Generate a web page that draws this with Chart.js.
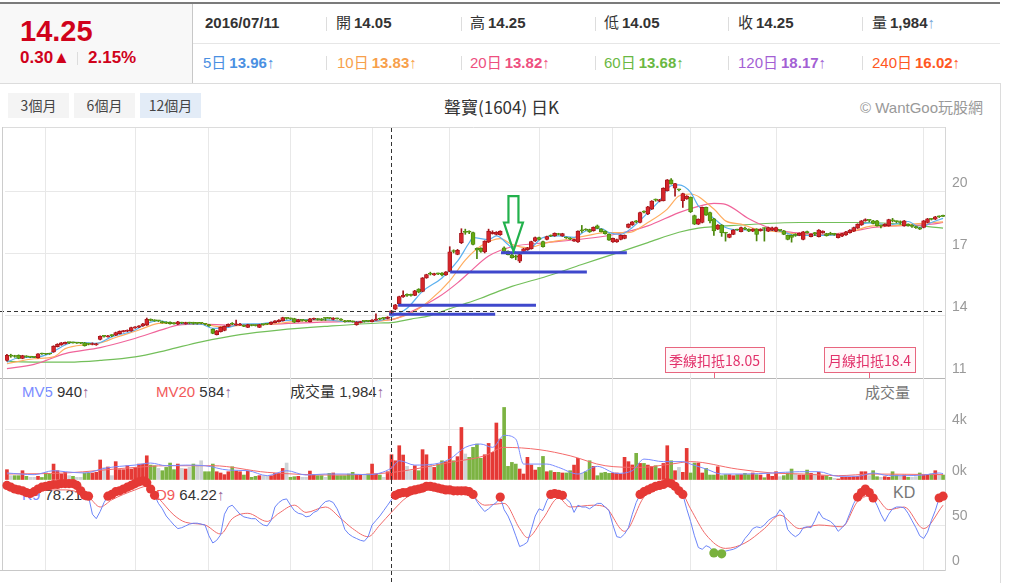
<!DOCTYPE html>
<html lang="zh-Hant">
<head>
<meta charset="utf-8">
<title>聲寶(1604) 日K</title>
<script src="https://cdn.jsdelivr.net/npm/chart.js@4.4.1/dist/chart.umd.min.js"></script>
<style>
  body { margin: 0; width: 1010px; height: 583px; overflow: hidden; background: #fff;
    font-family: "Liberation Sans", Arial, "Noto Sans CJK TC", sans-serif; color: #333; position: relative; }
  .abs { position: absolute; white-space: nowrap; }
  #topline { left: 0; top: 2px; width: 1000px; height: 2px; background: #7b7b7b; }
  #quote { left: 0; top: 4px; width: 192px; height: 79px; background: #f8f8f8; border-right: 1px solid #c8c8c8; }
  #bigPrice { left: 20px; top: 15px; font-size: 29px; font-weight: bold; color: #d0021b; }
  #chg { left: 20px; top: 48px; font-size: 17px; font-weight: bold; color: #d0021b; }
  #chgPct { left: 88px; top: 48px; font-size: 17px; font-weight: bold; color: #d0021b; }
  #chgSep { left: 77px; top: 52px; width: 1px; height: 13px; background: #ddd; }
  #rowSep { left: 193px; top: 43px; width: 807px; height: 1px; background: #e6e6e6; }
  #headBottom { left: 0; top: 83px; width: 1000px; height: 1px; background: #dcdcdc; }
  #rightBorder { left: 1000px; top: 83px; width: 1px; height: 500px; background: #dcdcdc; }
  .r1 { top: 14px; height: 18px; line-height: 18px; font-size: 15px; color: #333; }
  .r2 { top: 54px; height: 18px; line-height: 18px; font-size: 15px; }
  .r1 b, .r2 b { margin-left: 3px; }
  .vdiv { width: 1px; height: 14px; background: #dddddd; }
  .btn { top: 93px; width: 61px; height: 25px; line-height: 25px; text-align: center; font-size: 14px;
    color: #444; background: #f4f4f4; font-family: "Noto Sans CJK TC", sans-serif; }
  #title { left: 0; width: 1003px; top: 94px; text-align: center; font-size: 17px; color: #333;
    font-family: "Noto Sans CJK TC", sans-serif; }
  #brand { left: 860px; top: 96px; font-size: 15px; color: #999; }
  .leg { font-size: 15px; z-index: 1; line-height: 18px; }
  canvas { position: absolute; left: 0; z-index: 2; }
</style>
</head>
<body>
<div id="topline" class="abs"></div>
<div id="quote" class="abs"></div>
<div id="bigPrice" class="abs">14.25</div>
<div id="chg" class="abs">0.30▲</div>
<div id="chgSep" class="abs"></div>
<div id="chgPct" class="abs">2.15%</div>

<div class="abs r1" style="left:205px"><b style="margin-left:0">2016/07/11</b></div>
<div class="abs r1" style="left:336px">開<b>14.05</b></div>
<div class="abs r1" style="left:470px">高<b>14.25</b></div>
<div class="abs r1" style="left:604px">低<b>14.05</b></div>
<div class="abs r1" style="left:738px">收<b>14.25</b></div>
<div class="abs r1" style="left:872px">量<b>1,984</b><span style="color:#7aa7d8">↑</span></div>

<div class="abs r2" style="left:203px;color:#4a90e2">5日<b>13.96</b>↑</div>
<div class="abs r2" style="left:337px;color:#f7a04b">10日<b>13.83</b>↑</div>
<div class="abs r2" style="left:470px;color:#ee4f7f">20日<b>13.82</b>↑</div>
<div class="abs r2" style="left:604px;color:#6ab843">60日<b>13.68</b>↑</div>
<div class="abs r2" style="left:738px;color:#a35fd4">120日<b>18.17</b>↑</div>
<div class="abs r2" style="left:872px;color:#ff5722">240日<b>16.02</b>↑</div>

<div class="abs vdiv" style="left:326px;top:17px"></div>
<div class="abs vdiv" style="left:461px;top:17px"></div>
<div class="abs vdiv" style="left:595px;top:17px"></div>
<div class="abs vdiv" style="left:728px;top:17px"></div>
<div class="abs vdiv" style="left:862px;top:17px"></div>
<div class="abs vdiv" style="left:326px;top:56px"></div>
<div class="abs vdiv" style="left:461px;top:56px"></div>
<div class="abs vdiv" style="left:595px;top:56px"></div>
<div class="abs vdiv" style="left:728px;top:56px"></div>
<div class="abs vdiv" style="left:862px;top:56px"></div>
<div id="rowSep" class="abs"></div>
<div id="headBottom" class="abs"></div>
<div id="rightBorder" class="abs"></div>

<div class="abs btn" style="left:8px">3個月</div>
<div class="abs btn" style="left:74px">6個月</div>
<div class="abs btn" style="left:140px;background:#e3ecf7">12個月</div>
<div id="title" class="abs">聲寶(1604) 日K</div>
<div id="brand" class="abs">© WantGoo玩股網</div>

<div class="abs leg" style="left:22px;top:383px"><span style="color:#7b8cff">MV5</span> 940<span style="color:#9a6a9a">↑</span></div>
<div class="abs leg" style="left:156px;top:383px"><span style="color:#f25a5a">MV20</span> 584<span style="color:#9a6a9a">↑</span></div>
<div class="abs leg" style="left:290px;top:383px">成交量 1,984<span style="color:#9a6a9a">↑</span></div>
<div class="abs leg" style="left:865px;top:384px;color:#777">成交量</div>
<div class="abs leg" style="left:22px;top:486px"><span style="color:#7b8cff">K9</span> 78.21<span style="color:#9a6a9a">↑</span></div>
<div class="abs leg" style="left:156px;top:486px"><span style="color:#f25a5a">D9</span> 64.22<span style="color:#9a6a9a">↑</span></div>
<div class="abs leg" style="left:893px;top:484px;color:#777;font-size:16px">KD</div>

<canvas id="priceChart" width="1000" height="260" style="top:122px"></canvas>
<canvas id="volChart" width="1000" height="102" style="top:378px"></canvas>
<canvas id="kdChart" width="1000" height="113" style="top:470px"></canvas>

<script>
// daily candles, one entry per trading day (oldest first)
const opens = [
  11.85,12.06,12.08,12.10,11.95,12.05,12.01,12.00,11.98,12.17,
  12.17,12.17,12.26,12.52,12.60,12.66,12.71,12.72,12.69,12.68,
  12.70,12.66,12.62,12.60,12.86,13.01,12.99,13.05,13.07,13.15,
  13.24,13.26,13.28,13.42,13.46,13.52,13.56,13.82,13.79,13.76,
  13.73,13.70,13.70,13.66,13.60,13.66,13.62,13.66,13.68,13.64,
  13.65,13.62,13.58,13.35,13.10,13.24,13.30,13.50,13.64,13.56,
  13.56,13.55,13.45,13.56,13.55,13.45,13.58,13.60,13.60,13.68,
  13.72,13.77,13.88,13.88,13.87,13.73,13.79,13.77,13.73,13.84,
  13.86,13.86,13.88,13.90,13.83,13.88,13.85,13.77,13.75,13.74,
  13.58,13.68,13.74,13.76,13.73,13.80,13.88,13.88,13.88,14.05,
  14.33,14.59,14.92,15.00,15.00,15.00,15.30,15.19,15.84,16.02,
  15.98,16.05,16.08,15.98,16.16,17.14,16.98,17.55,18.04,18.10,
  18.03,17.27,17.28,17.10,17.58,17.98,17.95,17.93,17.30,17.13,
  16.96,16.90,16.65,17.12,17.20,17.25,17.63,17.79,17.60,17.70,
  17.90,17.87,17.98,17.87,17.80,17.77,17.62,17.58,18.12,18.20,
  18.18,18.13,18.36,18.20,18.10,17.95,17.58,17.58,17.70,17.75,
  18.28,18.40,18.58,18.52,19.05,18.93,19.17,19.62,19.55,19.58,
  20.06,20.58,20.18,20.10,19.58,19.66,19.74,18.85,18.44,18.52,
  19.25,19.00,18.70,18.20,18.40,18.02,17.80,17.95,18.18,18.08,
  18.22,18.20,18.10,18.20,18.12,18.25,18.10,18.15,18.10,18.14,
  18.12,17.90,17.90,17.90,17.90,17.70,18.05,17.84,17.98,17.84,
  18.03,17.98,17.98,17.95,17.79,17.86,17.92,18.03,18.10,18.25,
  18.40,18.60,18.62,18.60,18.60,18.36,18.36,18.36,18.62,18.58,
  18.52,18.36,18.44,18.33,18.27,18.26,18.28,18.52,18.70,18.68,
  18.80,18.84
];
const highs = [
  12.15,12.15,12.10,12.12,12.10,12.08,12.04,12.03,12.18,12.20,
  12.19,12.20,12.56,12.66,12.72,12.74,12.74,12.74,12.73,12.72,
  12.72,12.68,12.70,12.68,13.04,13.06,13.06,13.10,13.22,13.28,
  13.30,13.33,13.46,13.49,13.54,13.64,13.90,13.86,13.82,13.79,
  13.75,13.72,13.72,13.68,13.74,13.70,13.70,13.70,13.70,13.68,
  13.68,13.64,13.60,13.38,13.30,13.47,13.52,13.62,13.68,13.80,
  13.64,13.57,13.60,13.58,13.57,13.60,13.60,13.64,13.72,13.78,
  13.82,13.94,13.92,13.90,13.89,13.84,13.82,13.80,13.88,13.90,
  13.88,13.88,13.92,13.92,13.92,13.90,13.87,13.79,13.77,13.76,
  13.73,13.74,13.76,13.78,13.82,14.10,13.90,13.92,13.97,14.25,
  14.56,14.96,15.22,15.07,15.06,15.24,15.32,15.86,16.02,16.12,
  16.07,16.08,16.10,16.15,17.35,17.20,17.22,18.22,18.20,18.12,
  18.06,17.30,17.30,17.64,18.20,18.12,18.08,18.12,17.35,17.15,
  16.98,16.95,17.00,17.27,17.32,17.62,17.82,17.82,17.62,17.86,
  17.92,18.02,18.00,18.00,17.82,17.79,17.72,18.12,18.38,18.22,
  18.20,18.31,18.40,18.22,18.12,17.97,17.77,17.72,17.92,17.92,
  18.46,18.57,18.62,19.02,19.08,19.30,19.58,19.66,19.64,20.20,
  20.60,20.65,20.42,20.14,19.94,19.82,19.76,18.88,18.70,19.27,
  19.27,19.02,18.72,18.42,18.42,18.05,17.97,18.18,18.20,18.30,
  18.30,18.22,18.22,18.22,18.22,18.27,18.30,18.30,18.30,18.17,
  18.14,17.92,17.92,17.98,18.02,18.09,18.10,17.97,18.05,18.18,
  18.12,18.00,18.05,18.00,17.97,18.00,18.09,18.18,18.30,18.46,
  18.62,18.70,18.66,18.62,18.62,18.40,18.46,18.68,18.72,18.60,
  18.60,18.62,18.46,18.42,18.35,18.28,18.62,18.72,18.72,18.82,
  18.84,18.88
];
const lows = [
  11.82,12.00,12.00,11.93,11.93,12.00,11.98,11.98,11.96,12.14,
  12.13,12.14,12.24,12.50,12.58,12.64,12.66,12.68,12.67,12.66,
  12.54,12.60,12.60,12.58,12.84,12.98,12.97,13.00,13.05,13.13,
  13.22,13.24,13.26,13.40,13.44,13.50,13.54,13.76,13.74,13.73,
  13.65,13.63,13.60,13.60,13.58,13.63,13.60,13.62,13.60,13.60,
  13.62,13.57,13.50,13.14,13.08,13.22,13.28,13.48,13.58,13.54,
  13.54,13.48,13.44,13.52,13.51,13.44,13.55,13.58,13.58,13.66,
  13.70,13.75,13.84,13.83,13.68,13.71,13.75,13.73,13.71,13.82,
  13.80,13.78,13.78,13.86,13.81,13.84,13.78,13.70,13.72,13.70,
  13.55,13.66,13.70,13.72,13.71,13.78,13.82,13.83,13.86,14.05,
  14.30,14.57,14.90,14.95,14.96,14.98,15.12,15.17,15.82,15.98,
  15.96,16.00,15.94,15.96,16.14,17.05,16.96,17.50,17.95,17.98,
  17.44,16.77,17.08,17.05,17.55,17.96,17.92,17.90,17.10,16.95,
  16.80,16.72,16.58,17.10,17.18,17.23,17.60,17.68,17.33,17.68,
  17.84,17.85,17.92,17.85,17.75,17.69,17.60,17.56,18.04,18.14,
  18.04,18.10,18.22,18.06,17.96,17.65,17.56,17.56,17.68,17.73,
  18.26,18.38,18.50,18.50,18.98,18.90,19.15,19.55,19.52,19.56,
  20.04,20.37,19.80,20.05,19.25,19.64,19.00,18.42,18.42,18.50,
  18.86,18.50,17.90,18.18,17.85,17.62,17.78,17.93,18.14,18.06,
  18.18,18.08,18.08,17.63,18.10,17.62,18.08,18.13,18.08,18.10,
  17.93,17.68,17.57,17.85,17.88,17.68,18.00,17.82,17.88,17.82,
  18.00,17.86,17.93,17.90,17.77,17.84,17.90,18.00,18.08,18.23,
  18.38,18.58,18.55,18.45,18.34,18.26,18.34,18.34,18.55,18.50,
  18.44,18.34,18.34,18.28,18.23,18.18,18.26,18.50,18.64,18.66,
  18.76,18.80
];
const closes = [
  12.10,12.06,12.04,11.95,12.08,12.02,12.01,12.00,12.17,12.16,
  12.15,12.16,12.54,12.63,12.70,12.72,12.71,12.70,12.69,12.68,
  12.56,12.64,12.66,12.64,13.02,13.01,13.04,13.05,13.20,13.26,
  13.28,13.31,13.44,13.47,13.52,13.62,13.84,13.79,13.76,13.76,
  13.67,13.65,13.62,13.62,13.72,13.66,13.68,13.66,13.64,13.64,
  13.65,13.60,13.52,13.16,13.28,13.45,13.50,13.60,13.60,13.62,
  13.60,13.50,13.58,13.54,13.53,13.58,13.58,13.60,13.70,13.76,
  13.80,13.92,13.88,13.86,13.70,13.82,13.79,13.77,13.86,13.88,
  13.83,13.80,13.88,13.88,13.90,13.86,13.80,13.72,13.74,13.72,
  13.71,13.72,13.74,13.74,13.80,13.85,13.84,13.88,13.95,14.25,
  14.54,14.94,15.00,15.00,15.00,15.22,15.15,15.84,16.00,16.02,
  16.05,16.04,15.98,16.13,17.10,17.12,17.18,18.00,18.04,18.05,
  17.46,17.20,17.12,17.62,18.10,18.05,18.05,18.10,17.12,16.97,
  16.82,16.85,16.97,17.25,17.30,17.60,17.79,17.70,17.35,17.84,
  17.87,18.00,17.94,17.98,17.77,17.71,17.70,18.10,18.12,18.16,
  18.06,18.29,18.24,18.08,17.98,17.67,17.75,17.70,17.90,17.90,
  18.44,18.55,18.55,19.00,19.02,19.28,19.56,19.60,19.62,20.18,
  20.58,20.39,20.40,20.10,19.92,19.80,19.04,18.44,18.68,19.25,
  18.88,18.60,18.11,18.40,18.03,18.00,17.95,18.16,18.16,18.28,
  18.20,18.10,18.20,17.94,18.20,18.23,18.28,18.26,18.28,18.14,
  17.95,17.70,17.80,17.90,18.00,18.07,18.03,17.95,17.98,18.16,
  18.10,17.88,17.95,17.95,17.95,17.98,18.07,18.16,18.28,18.44,
  18.60,18.66,18.62,18.48,18.36,18.36,18.44,18.66,18.60,18.56,
  18.52,18.60,18.36,18.33,18.27,18.20,18.60,18.70,18.67,18.80,
  18.80,18.82
];
const volumes = [
  810,340,340,340,730,290,210,210,290,200,
  550,470,1250,730,470,600,340,290,210,210,
  550,550,550,600,1570,970,1020,340,1440,810,
  810,1120,860,990,1250,1250,1900,1170,1120,910,
  730,990,1330,810,1250,910,860,990,1250,1170,
  1510,650,650,1250,650,550,420,650,1040,700,
  650,390,700,210,290,340,340,290,340,520,
  520,910,1330,210,260,290,210,210,700,390,
  340,340,210,520,550,340,340,340,470,600,
  420,390,390,470,1250,470,390,210,650,1984,
  1510,2690,1960,1070,730,1120,730,2380,1980,1250,
  990,1250,1510,1440,2640,1510,1830,4120,2040,1780,
  2560,2820,1700,1980,2870,2170,4470,3210,5690,1070,
  1380,1250,860,470,1780,1170,780,990,1850,650,
  730,600,600,550,550,730,1170,1700,520,650,
  1510,1070,340,550,600,520,550,550,470,1780,
  1440,1180,2090,1300,1300,1170,1070,1120,900,1300,
  2690,1510,730,990,600,2480,550,1330,1330,550,
  910,390,390,1040,340,420,420,340,420,420,
  520,420,550,420,390,180,470,290,650,260,
  340,550,860,470,390,390,780,520,470,600,
  340,340,210,130,80,210,210,210,260,290,
  650,650,340,730,260,210,260,210,650,390,
  290,390,210,210,260,550,390,390,470,730,
  390,390
];
// KD(9): K per day, D read at its turning points
const kValues = [
  94,92,90,89,88,86,85,87,90,92,
  93,94,95,95,96,96,96,96,94,88,
  83,82,62,57,65,75,82,84,87,88,
  90,92,94,96,98,99,97,90,83,74,
  68,60,55,50,46,47,49,51,52,52,
  51,50,38,30,33,39,62,70,72,67,
  62,59,58,57,57,53,50,49,55,70,
  75,78,79,72,66,63,62,59,60,64,
  66,72,76,77,75,68,58,45,40,37,
  35,33,32,37,50,55,60,66,72,78.21,
  83,85,86,86,88,89,90,91,93,93,
  92,91,90,89,89,88,88,88,88,87,
  84,76,70,65,68,72,75,81,67,60,
  50,38,26,28,31,45,60,68,66,77,
  84,85,84,83,79,75,64,72,70,70,
  68,71,74,74,70,66,50,37,36,40,
  47,62,75,84,87,89,91,93,94,95,
  97,96,93,88,84,68,54,38,25,23,
  27,25,19,21,18,21,22,23,25,28,
  35,40,46,48,47,50,55,58,60,67,
  62,45,40,37,40,47,48,47,55,65,
  58,56,54,50,43,47,52,63,74,81,
  86,90,86,80,72,62,54,62,68,70,
  70,69,63,55,47,38,35,42,55,66,
  80,82
];
const dPoints = [[0,89],[7,89],[15,89],[21,81],[24,70],[27,78],[33,89],[36,93],[39,80],[43,61],
  [46,53],[51,50],[55,40],[58,57],[62,63],[67,54],[70,63],[74,72],[77,64],[82,70],[86,57],[89,46],
  [93,37],[96,50],[99,64.22],[103,81],[108,89],[118,89],[123,72],[128,74],[132,46],[134,36],[138,57],
  [142,80],[145,70],[151,72],[154,70],[159,43],[164,81],[169,94],[173,91],[176,68],[180,39],[185,24],
  [190,30],[195,46],[199,61],[204,46],[209,50],[215,48],[219,76],[223,83],[227,67],[231,70],[236,46],[241,72]];

// moving averages as [day index, value]
const ma5Points = [[0,11.76],[3,11.98],[7,12.0],[11,12.18],[14,12.5],[17,12.72],[21,12.7],[23,12.67],[27,12.99],
  [33,13.32],[36,13.64],[39,13.77],[43,13.64],[50,13.6],[53,13.4],[57,13.45],[60,13.6],[65,13.62],[73,13.8],
  [81,13.82],[88,13.72],[95,13.75],[99,13.96],[103,14.37],[107,15.19],[112,15.84],[116,16.65],[119,17.54],
  [120,17.79],[124,17.7],[126,17.87],[129,17.46],[132,16.98],[135,17.3],[138,17.79],[142,17.87],[146,17.8],
  [149,18.11],[153,18.23],[155,18.03],[158,17.95],[161,18.28],[165,19.0],[168,19.58],[171,20.3],[173,20.34],
  [176,19.98],[178,19.33],[182,18.72],[185,18.28],[189,18.16],[193,18.16],[199,18.11],[203,17.9],[209,17.9],
  [215,17.95],[220,18.44],[223,18.5],[227,18.4],[232,18.57],[235,18.28],[238,18.52],[241,18.72]];
const ma10Points = [[0,11.69],[7,11.93],[12,12.02],[15,12.42],[21,12.63],[24,12.7],[28,12.96],[34,13.32],
  [39,13.64],[43,13.67],[50,13.64],[55,13.48],[60,13.54],[68,13.6],[75,13.75],[83,13.78],[91,13.72],[99,13.83],
  [104,14.13],[109,14.78],[114,15.7],[118,16.7],[122,17.38],[127,17.74],[130,17.46],[134,17.3],[139,17.54],
  [144,17.7],[149,17.87],[154,18.03],[160,18.03],[165,18.52],[170,19.17],[173,19.8],[176,19.9],[182,19.17],
  [185,18.6],[189,18.44],[193,18.2],[199,18.07],[204,17.95],[211,17.9],[218,18.11],[223,18.36],[228,18.36],
  [233,18.44],[238,18.52],[241,18.55]];
const ma20Points = [[0,11.45],[7,11.66],[15,12.18],[24,12.47],[32,12.86],[41,13.4],[44,13.56],[50,13.61],
  [58,13.56],[68,13.6],[81,13.7],[91,13.74],[99,13.82],[104,14.2],[111,14.9],[116,15.6],[119,16.1],[124,16.9],
  [130,17.35],[139,17.55],[147,17.7],[156,17.93],[165,18.36],[173,19.0],[178,19.3],[182,19.45],[185,19.4],
  [191,18.7],[196,18.28],[201,18.07],[206,18.0],[211,17.95],[218,18.11],[223,18.28],[228,18.36],[233,18.38],
  [238,18.44],[241,18.52]];
const ma60Points = [[0,11.8],[7,11.77],[16,11.77],[24,11.85],[33,12.02],[41,12.34],[50,12.75],[60,13.1],
  [70,13.32],[83,13.51],[96,13.66],[99,13.68],[104,13.85],[109,14.02],[113,14.29],[118,14.6],[122,14.86],
  [130,15.43],[139,15.92],[148,16.49],[156,16.98],[165,17.55],[173,18.05],[178,18.25],[189,18.4],[204,18.52],
  [222,18.52],[233,18.39],[241,18.25]];
// volume averages
const mv5Points = [[0,550],[7,420],[12,730],[15,650],[20,550],[25,910],[29,1070],[33,1170],[37,1330],[41,1120],
  [46,1170],[51,1120],[57,780],[62,730],[67,340],[72,730],[77,390],[82,470],[87,470],[93,420],[99,940],
  [101,1510],[105,1170],[110,1250],[114,1640],[118,2560],[122,2820],[125,2560],[128,3500],[131,3210],[133,1250],
  [137,1250],[139,1250],[142,990],[147,470],[152,1070],[157,520],[161,730],[164,1640],[169,1440],[174,1440],
  [176,1250],[180,860],[184,470],[190,470],[197,550],[204,650],[209,650],[214,290],[219,290],[223,550],
  [227,340],[231,340],[236,390],[240,550],[241,500]];
const mv20Points = [[0,470],[15,550],[33,990],[41,1120],[53,1120],[67,600],[84,390],[99,584],[105,860],[114,1380],
  [123,1900],[128,2560],[137,2380],[145,1900],[154,1120],[163,990],[171,1250],[176,1440],[188,860],[197,550],
  [205,470],[214,340],[223,470],[231,450],[241,420]];

const monthTicks = [10, 33, 52, 73, 94, 114, 137, 156, 176, 198, 236];
const priceTicks = [11, 14, 17, 20];
const volumeTicks = [0, 4000];
const kdTicks = [0, 50];
const crossIndex = 99;
// hand-drawn support lines: [from day, to day, price]
const supportLines = [[127.2, 159.6, 17.06], [114.1, 149.3, 16.13], [100.7, 136.2, 14.52], [98.4, 125.7, 14.08]];
const deductions = [[182, '季線扣抵18.05'], [222, '月線扣抵18.4']];
const arrowMark = { index: 130.4, tip: 17.14, base: 18.52, top: 19.8 };

const RED = '#d4252a', RED_EDGE = '#a3141a', GREEN = '#64a814', GREEN_EDGE = '#4b860c';
const VRED = '#e53935', VGREEN = '#7cb342', VGRAY = '#cfd3d6';
const GRID = '#e8e8e8';
Chart.defaults.font.family = '"Liberation Sans", "Noto Sans CJK TC", sans-serif';

const days = closes.map((_, i) => i);
const pts = arr => arr.map(([x, y]) => ({ x, y }));
const isUp = i => closes[i] > opens[i];

function xAxis() {
  return {
    type: 'linear', min: -0.5, max: closes.length - 0.5, offset: false,
    grid: { color: GRID, drawTicks: false, offset: false },
    border: { display: false },
    ticks: { display: false },
    afterBuildTicks: axis => { axis.ticks = monthTicks.map(v => ({ value: v })); },
    afterFit: axis => { axis.height = 0; axis.paddingLeft = 0; axis.paddingRight = 0; }
  };
}
function yAxis(min, max, ticks, fmt) {
  return {
    position: 'right', min, max,
    grid: { color: GRID, drawTicks: false },
    border: { display: true, color: '#d6d6d6' },
    ticks: { color: '#999', font: { size: 14 }, padding: 7, labelOffset: -9, callback: fmt },
    afterBuildTicks: axis => { axis.ticks = ticks.map(v => ({ value: v })); },
    afterFit: axis => { axis.width = 55; axis.paddingTop = 0; axis.paddingBottom = 0; }
  };
}
function baseOptions(padding, y) {
  return {
    responsive: false, animation: false, events: [],
    layout: { padding, autoPadding: false },
    plugins: { legend: { display: false }, tooltip: { enabled: false } },
    scales: { x: xAxis(), y }
  };
}
function maLine(data, color) {
  return { type: 'line', data: pts(data), borderColor: color, borderWidth: 1.2, pointRadius: 0,
    cubicInterpolationMode: 'monotone', order: 5 };
}
function crossLine(ctx, x, top, bottom) {
  const cx = Math.round(x.getPixelForValue(crossIndex)) + 0.5;
  ctx.save();
  ctx.strokeStyle = '#333'; ctx.lineWidth = 1; ctx.setLineDash([4, 3]);
  ctx.beginPath(); ctx.moveTo(cx, top); ctx.lineTo(cx, bottom); ctx.stroke();
  ctx.restore();
}
function hLine(ctx, y, x0, x1, color) {
  ctx.save();
  ctx.strokeStyle = color; ctx.lineWidth = 1;
  ctx.beginPath(); ctx.moveTo(x0, Math.round(y) + 0.5); ctx.lineTo(x1, Math.round(y) + 0.5); ctx.stroke();
  ctx.restore();
}
function leftEdge(ctx, top, bottom) {
  ctx.save(); ctx.strokeStyle = '#cccccc';
  ctx.beginPath(); ctx.moveTo(2.5, top); ctx.lineTo(2.5, bottom); ctx.stroke(); ctx.restore();
}

// ---- price pane ----
const priceOverlay = {
  id: 'priceOverlay',
  afterDatasetsDraw(chart) {
    const { ctx, chartArea: a, scales: { x, y } } = chart;
    crossLine(ctx, x, a.top + 1, a.bottom);
    ctx.save();
    ctx.strokeStyle = '#333'; ctx.lineWidth = 1; ctx.setLineDash([4, 3]);
    const cy = Math.round(y.getPixelForValue(closes[crossIndex])) + 0.5;
    ctx.beginPath(); ctx.moveTo(0, cy); ctx.lineTo(a.right, cy); ctx.stroke();
    ctx.setLineDash([]);

    // hollow green arrow
    const ax = x.getPixelForValue(arrowMark.index);
    const tipY = y.getPixelForValue(arrowMark.tip);
    const baseY = y.getPixelForValue(arrowMark.base);
    const topY = y.getPixelForValue(arrowMark.top);
    ctx.strokeStyle = '#22b14c'; ctx.lineWidth = 2.2; ctx.lineJoin = 'miter';
    ctx.beginPath();
    ctx.moveTo(ax - 5, topY); ctx.lineTo(ax + 5, topY); ctx.lineTo(ax + 5, baseY);
    ctx.lineTo(ax + 9.5, baseY); ctx.lineTo(ax, tipY); ctx.lineTo(ax - 9.5, baseY);
    ctx.lineTo(ax - 5, baseY); ctx.closePath(); ctx.stroke();

    // deduction markers
    ctx.font = '14px "Noto Sans CJK TC", sans-serif';
    ctx.lineWidth = 1;
    deductions.forEach(([i, label]) => {
      const px = Math.round(x.getPixelForValue(i)) + 0.5;
      const w = Math.round(ctx.measureText(label).width + 8);
      const bottom = Math.round(a.bottom) - 6, top = bottom - 25;
      const left = Math.round(px - w / 2) + 0.5;
      ctx.fillStyle = '#fff7f9'; ctx.fillRect(left, top + 0.5, w, 25);
      ctx.strokeStyle = '#e8667f'; ctx.strokeRect(left, top + 0.5, w, 25);
      ctx.beginPath(); ctx.moveTo(px, bottom + 0.5); ctx.lineTo(px, a.bottom); ctx.stroke();
      ctx.fillStyle = '#e2306a'; ctx.textAlign = 'center'; ctx.textBaseline = 'middle';
      ctx.fillText(label, px, top + 13.5);
    });
    ctx.restore();
    hLine(ctx, a.top, 2, a.right, '#dcdcdc');
    hLine(ctx, a.bottom - 0.5, 0, a.right, '#b5b5b5');
    leftEdge(ctx, a.top, a.bottom);
  }
};

new Chart(document.getElementById('priceChart'), {
  type: 'bar',
  data: {
    datasets: [
      ...supportLines.map(([from, to, p]) => ({
        type: 'line', data: [{ x: from, y: p }, { x: to, y: p }], borderColor: '#3f48cc',
        borderWidth: 3, pointRadius: 0, order: 0
      })),
      { data: days.map(i => ({ x: i, y: [opens[i], closes[i]] })), grouped: false, barThickness: 4,
        minBarLength: 1, borderWidth: 0.8, borderSkipped: false,
        backgroundColor: c => isUp(c.dataIndex) ? RED : GREEN,
        borderColor: c => isUp(c.dataIndex) ? RED_EDGE : GREEN_EDGE, order: 2 },
      { data: days.map(i => ({ x: i, y: [lows[i], highs[i]] })), grouped: false, barThickness: 1,
        backgroundColor: c => isUp(c.dataIndex) ? RED_EDGE : GREEN_EDGE, order: 3 },
      maLine(ma5Points, '#5bb0ef'),
      maLine(ma10Points, '#ffad60'),
      maLine(ma20Points, '#f0649a'),
      maLine(ma60Points, '#73bf5a')
    ]
  },
  options: baseOptions({ left: 5, right: 0, top: 5, bottom: 4 }, yAxis(11, 23.14, priceTicks, v => v)),
  plugins: [priceOverlay]
});

// ---- volume pane ----
const volOverlay = {
  id: 'volOverlay',
  afterDatasetsDraw(chart) {
    const { ctx, chartArea: a, scales: { x } } = chart;
    crossLine(ctx, x, a.top, a.bottom);
    hLine(ctx, a.bottom - 0.5, 0, a.right, '#d2d2d2');
    leftEdge(ctx, a.top, a.bottom);
  }
};
new Chart(document.getElementById('volChart'), {
  type: 'bar',
  data: {
    datasets: [
      { type: 'line', data: pts(mv5Points), borderColor: '#7b8cff', borderWidth: 1, pointRadius: 0,
        cubicInterpolationMode: 'monotone', order: 0 },
      { type: 'line', data: pts(mv20Points), borderColor: '#f46a6a', borderWidth: 1, pointRadius: 0,
        cubicInterpolationMode: 'monotone', order: 1 },
      { data: days.map(i => ({ x: i, y: volumes[i] })), grouped: false, barThickness: 3, order: 2,
        backgroundColor: c => {
          const i = c.dataIndex;
          return closes[i] > opens[i] ? VRED : closes[i] < opens[i] ? VGREEN : VGRAY;
        } }
    ]
  },
  options: baseOptions({ left: 5, right: 0, top: 0, bottom: 0 },
    yAxis(0, 8000, volumeTicks, v => (v / 1000) + 'k')),
  plugins: [volOverlay]
});

// ---- KD pane ----
const kdOverlay = {
  id: 'kdOverlay',
  beforeDatasetsDraw(chart) {
    const { ctx, chartArea: a, scales: { x } } = chart;
    crossLine(ctx, x, a.top, chart.height);
    hLine(ctx, a.bottom - 0.5, 0, a.right, '#c8c8c8');
    leftEdge(ctx, a.top, a.bottom);
  }
};
const kVal = c => (c.raw && typeof c.raw.y === 'number') ? c.raw.y : 50;
new Chart(document.getElementById('kdChart'), {
  type: 'line',
  data: {
    datasets: [
      { data: days.map(i => ({ x: i, y: kValues[i] })), borderColor: '#6b84f8', borderWidth: 1, clip: false,
        pointRadius: c => (kVal(c) >= 80 || kVal(c) <= 20) ? 4.6 : 0,
        pointBackgroundColor: c => kVal(c) >= 80 ? '#e53935' : '#79b13d',
        pointBorderWidth: 0, order: 0 },
      { data: pts(dPoints), borderColor: '#f06a6a', borderWidth: 1, pointRadius: 0,
        cubicInterpolationMode: 'monotone', order: 1 }
    ]
  },
  options: baseOptions({ left: 5, right: 0, top: 10, bottom: 13 }, yAxis(0, 100, kdTicks, v => v)),
  plugins: [kdOverlay]
});
</script>
</body>
</html>
